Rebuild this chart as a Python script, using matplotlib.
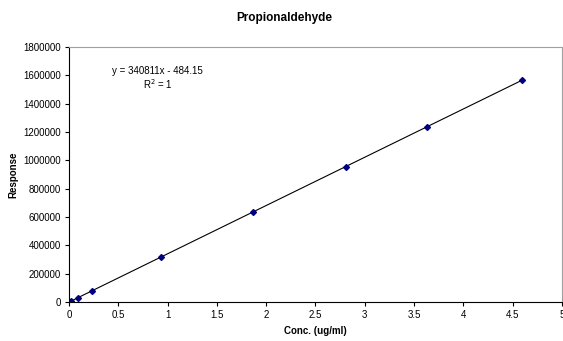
import matplotlib.pyplot as plt
import numpy as np
from matplotlib.ticker import FuncFormatter

plt.rcParams['font.family'] = ['Liberation Sans', 'DejaVu Sans']

conc = [0.0234, 0.0935, 0.234, 0.935, 1.87, 2.805, 3.63, 4.6]
response = [7500, 31400, 79300, 318200, 636800, 955500, 1236700, 1567200]
slope = 340811
intercept = -484.15

fig = plt.figure(figsize=(5.63, 3.41), dpi=100)
ax = fig.add_axes([0.1226, 0.1144, 0.8754, 0.7476])

xs = np.array([conc[0], conc[-1]])
ax.plot(xs, slope * xs + intercept, color='black', lw=0.8)
ax.plot(conc, response, linestyle='none', marker='D', ms=3, color='#000080')

ax.set_xlim(0, 5)
ax.set_ylim(0, 1800000)
ax.set_xticks(np.arange(0, 5.01, 0.5))
ax.set_xticklabels(['0', '0.5', '1', '1.5', '2', '2.5', '3', '3.5', '4', '4.5', '5'])
ax.set_yticks(np.arange(0, 1800001, 200000))
ax.yaxis.set_major_formatter(FuncFormatter(lambda v, p: '%d' % v))
ax.tick_params(labelsize=7, length=3, width=0.8, direction='out', pad=3)
for s in ['top', 'right']:
    ax.spines[s].set_color('#a0a0a0')
    ax.spines[s].set_linewidth(0.8)
for s in ['left', 'bottom']:
    ax.spines[s].set_linewidth(0.8)

ax.set_xlabel('Conc. (ug/ml)', fontsize=7, fontweight='bold', labelpad=4)
ax.set_ylabel('Response', fontsize=7, fontweight='bold', labelpad=3)
fig.text(0.505, 0.948, 'Propionaldehyde', ha='center', va='center', fontsize=8.5, fontweight='bold')

ax.text(0.9, 1630000, 'y = 340811x - 484.15', fontsize=7, ha='center', va='center')
ax.text(0.9, 1535000, 'R$^2$ = 1', fontsize=7, ha='center', va='center')

plt.savefig('out.png', dpi=100)
